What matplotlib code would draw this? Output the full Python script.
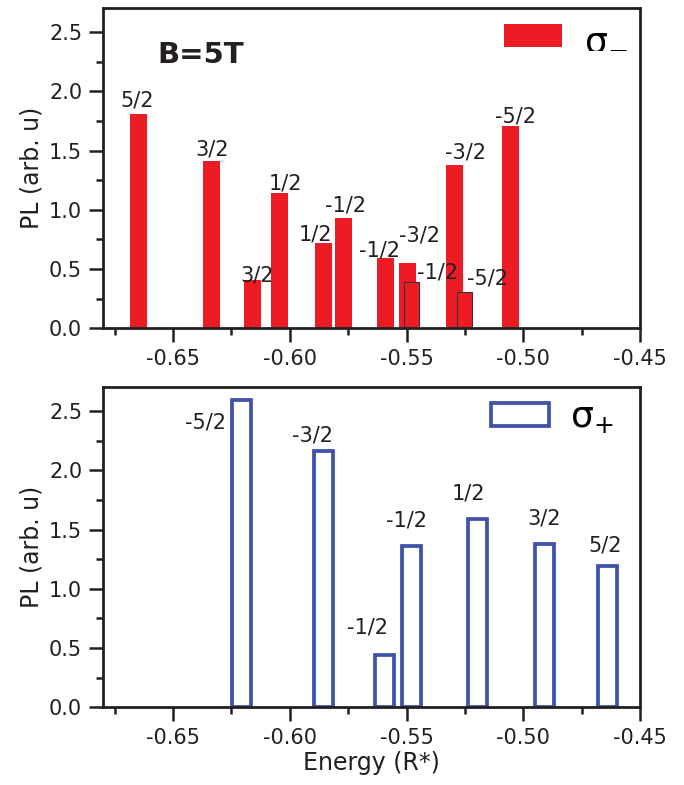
import numpy as np
import matplotlib
matplotlib.use('Agg')
import matplotlib.pyplot as plt
from matplotlib.ticker import MultipleLocator, FormatStrFormatter

plt.rcParams['font.family'] = ['DejaVu Sans']
plt.rcParams['axes.unicode_minus'] = False
plt.rcParams['mathtext.fontset'] = 'dejavusans'

# sigma- transitions (filled red bars), B = 5T
sm_energy = [-0.6646, -0.6337, -0.6160, -0.6043, -0.5854, -0.5770, -0.5592, -0.5495, -0.5295, -0.5054]
sm_pl = [1.81, 1.41, 0.41, 1.14, 0.72, 0.93, 0.59, 0.55, 1.38, 1.71]
sm_labels = ['5/2', '3/2', '3/2', '1/2', '1/2', '-1/2', '-1/2', '-3/2', '-3/2', '-5/2']

# two weak sigma- lines drawn on top with a thin outline
sm2_energy = [-0.5478, -0.5252]
sm2_pl = [0.39, 0.31]
sm2_labels = ['-1/2', '-5/2']

# sigma+ transitions (open blue bars)
sp_energy = [-0.6208, -0.5857, -0.5594, -0.5480, -0.5198, -0.4911, -0.4641]
sp_pl = [2.59, 2.16, 0.44, 1.36, 1.59, 1.38, 1.19]
sp_labels = ['-5/2', '-3/2', '-1/2', '-1/2', '1/2', '3/2', '5/2']

# label offsets in pixels from the bar top (dx, dy)
sm_offsets = [(-2, 7), (1, 6), (5, -2), (6, 4), (-8, 2), (2, 7), (-6, 2), (12, 22), (11, 6), (5, 3)]
sm2_offsets = [(26, 4), (23, 7)]
sp_offsets = [(-36, -28), (-11, 10), (-17, 22), (-5, 20), (-9, 19), (0, 19), (-2, 15)]

red = '#ED1C24'
blue = '#3F51A8'
txt = '#231F20'

fig = plt.figure(figsize=(6.84, 7.85), dpi=100)
ax1 = fig.add_axes([0.1506, 0.5818, 0.7851, 0.4076])
ax2 = fig.add_axes([0.1506, 0.0990, 0.7851, 0.4076])


def style_axis(ax):
    ax.set_xlim(-0.68, -0.45)
    ax.set_ylim(0, 2.7)
    ax.xaxis.set_major_locator(MultipleLocator(0.05))
    ax.xaxis.set_minor_locator(MultipleLocator(0.025))
    ax.yaxis.set_major_locator(MultipleLocator(0.5))
    ax.yaxis.set_minor_locator(MultipleLocator(0.25))
    ax.xaxis.set_major_formatter(FormatStrFormatter('%.2f'))
    ax.yaxis.set_major_formatter(FormatStrFormatter('%.1f'))
    ax.tick_params(which='major', direction='out', length=10, width=1.8,
                   labelsize=15, pad=5, colors=txt)
    ax.tick_params(which='minor', direction='out', length=5, width=1.8, colors=txt)
    ax.tick_params(top=False, right=False)
    for s in ax.spines.values():
        s.set_linewidth(2.0)
        s.set_color(txt)
    ax.set_ylabel('PL (arb. u)', fontsize=17, color=txt, labelpad=4)


def put_labels(ax, xs, ys, labels, offsets):
    for x, y, lab, (dx, dy) in zip(xs, ys, labels, offsets):
        ax.annotate(lab, (x, y), xytext=(dx, dy), textcoords='offset pixels',
                    ha='center', va='baseline', fontsize=15, color=txt)


# top panel
style_axis(ax1)
b1 = ax1.bar(sm_energy, sm_pl, width=0.0073, color=red, edgecolor='none')
ax1.bar(sm2_energy, sm2_pl, width=0.0066, color=red, edgecolor='#333333', linewidth=0.8)
put_labels(ax1, sm_energy, sm_pl, sm_labels, sm_offsets)
put_labels(ax1, sm2_energy, sm2_pl, sm2_labels, sm2_offsets)
ax1.text(0.102, 0.83, 'B=5T', transform=ax1.transAxes, fontsize=21,
         fontweight='bold', color=txt)
ax1.legend([b1], [r'$\mathrm{\sigma}_{-}$'], loc='upper right', frameon=False, fontsize=26,
           handlelength=1.6, handleheight=0.62, handletextpad=0.6,
           borderaxespad=0.15, borderpad=0.2)

# bottom panel
style_axis(ax2)
b2 = ax2.bar(sp_energy, sp_pl, width=0.0081, facecolor='white', edgecolor=blue, linewidth=2.7)
put_labels(ax2, sp_energy, sp_pl, sp_labels, sp_offsets)
ax2.set_xlabel('Energy (R*)', fontsize=17, color=txt, labelpad=2)
ax2.legend([b2], [r'$\mathrm{\sigma}_{+}$'], loc='upper right', frameon=False, fontsize=26,
           handlelength=1.6, handleheight=0.62, handletextpad=0.6,
           borderaxespad=0.15, borderpad=0.2, bbox_to_anchor=(0.975, 1.0))

fig.savefig('out.png', dpi=100)
